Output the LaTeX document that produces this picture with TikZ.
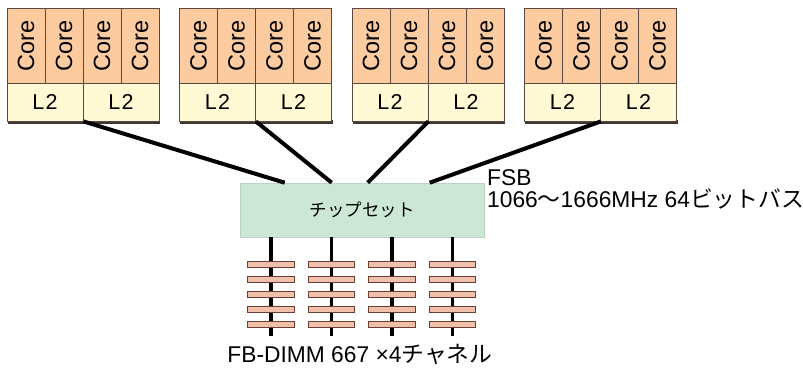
\documentclass[tikz,border=0pt]{standalone}
\usepackage{fontspec}
\setmainfont{Liberation Sans}
\newfontfamily\jp{Noto Sans CJK JP}
\definecolor{corefill}{HTML}{FCCBA0}
\definecolor{l2fill}{HTML}{FFF9D4}
\definecolor{chipfill}{HTML}{CCE7D5}
\definecolor{dimmfill}{HTML}{F1C0AA}
\definecolor{cellline}{HTML}{5A4A40}
\definecolor{shadowcol}{HTML}{3E3634}
\definecolor{dimmline}{HTML}{6A4034}
\begin{document}
\begin{tikzpicture}[x=1pt,y=-1pt,
  corecell/.style={draw=cellline, line width=0.8pt, fill=corefill, rotate=90,
    minimum width=75.5pt, minimum height=38pt, inner sep=0pt,
    font=\fontsize{23.5}{23.5}\selectfont},
  l2cell/.style={draw=cellline, line width=0.8pt, fill=l2fill,
    minimum width=76pt, minimum height=37.5pt, inner sep=0pt,
    font=\fontsize{21.5}{21.5}\selectfont},
  chipbox/.style={fill=chipfill, draw=chipfill!80!gray, line width=0.6pt,
    minimum width=244pt, minimum height=54pt, inner sep=0pt,
    font=\fontsize{17.5}{17.5}\selectfont\jp},
  dimm/.style={draw=dimmline, line width=0.8pt, fill=dimmfill,
    minimum width=46.5pt, minimum height=6pt, inner sep=0pt},
  bus/.style={line width=4pt, black},
  memline/.style={line width=3.5pt, black},
  lbl/.style={font=\fontsize{22.8}{22.8}\selectfont, inner sep=0pt}
]
\useasboundingbox (0,0) rectangle (803,379);

% processor packages
\foreach \i/\x in {1/7,2/179.5,3/352,4/524.5}{
  \fill[shadowcol] (\x+0.5,120.5) rectangle (\x+153,124);
  \foreach \j in {0,1,2,3}{
    \node[corecell] (p\i c\j) at ({\x+19+38*\j},45.75) {Core};
  }
  \foreach \k in {1,2}{
    \node[l2cell] (p\i l\k) at ({\x+38+76*(\k-1)},102.25) {L\kern1.5pt 2};
  }
}

% chipset
\fill[shadowcol!80] (240,235.5) rectangle (484,238.5);
\node[chipbox] (chip) at (362,210) {チップセット};

% FSB connections
\draw[bus] (p1l1.south east) -- ([xshift=45pt]chip.north west);
\draw[bus] (p2l1.south east) -- ([xshift=92pt]chip.north west);
\draw[bus] (p3l1.south east) -- ([xshift=128pt]chip.north west);
\draw[bus] (p4l1.south east) -- ([xshift=190pt]chip.north west);

% memory channels
\foreach \m/\mx in {1/271,2/331.5,3/392,4/452.5}{
  \coordinate (mend\m) at (\mx,336);
  \draw[memline] (chip.south west -| mend\m) -- (mend\m);
  \foreach \r/\ry in {1/264,2/279,3/294,4/309,5/324}{
    \node[dimm] (d\m r\r) at (\mx,\ry) {};
  }
}

% labels
\node[lbl] (fbdimm) at (360,354) {FB-DIMM 667 ×4{\jp チャネル}};
\node[lbl, anchor=north west, align=left] (fsb) at (487,169)
  {FSB\\[-0.5pt]1066{\jp 〜}1666MHz 64{\jp ビットバス}};
\end{tikzpicture}
\end{document}
